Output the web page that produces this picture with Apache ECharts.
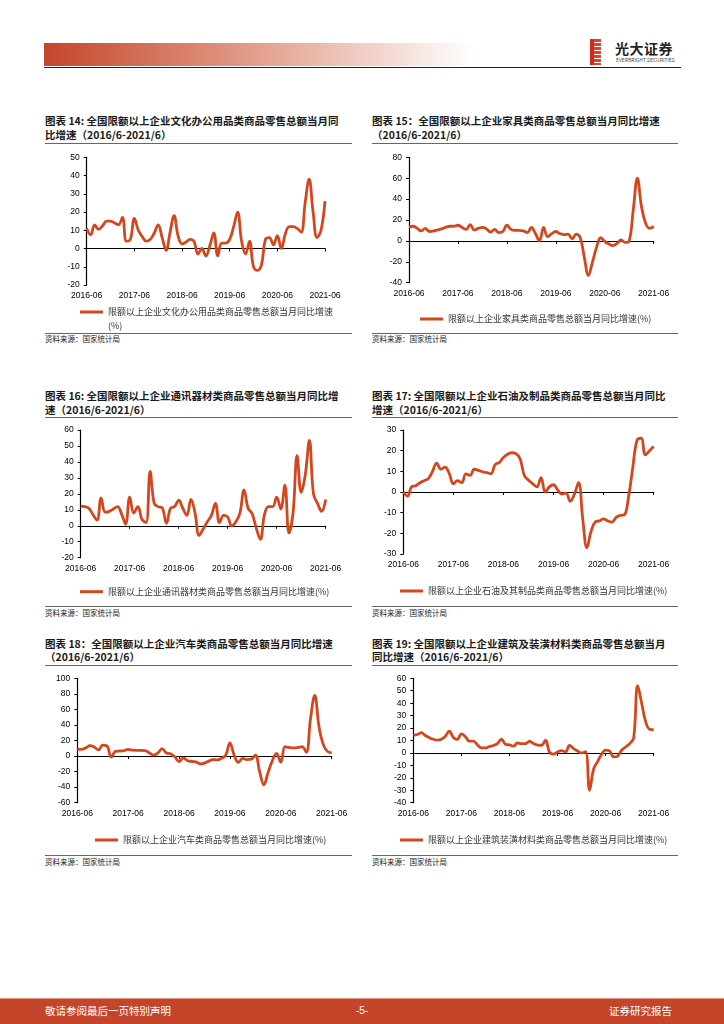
<!DOCTYPE html>
<html>
<head>
<meta charset="utf-8">
<script src="https://cdn.jsdelivr.net/npm/echarts@6/dist/echarts.min.js"></script>
<style>
body{margin:0;background:#fff;}
#page{position:relative;width:724px;height:1024px;overflow:hidden;font-family:'Noto Sans CJK SC','Liberation Sans',sans-serif;}
.t{position:absolute;font-size:10.5px;font-weight:bold;line-height:13.5px;color:#1a1a1a;white-space:nowrap;}
.sep{position:absolute;height:0;border-top:1px solid #666;}
.src{position:absolute;font-size:7.5px;line-height:9px;color:#222;white-space:nowrap;}
#main{position:absolute;left:0;top:0;width:724px;height:1024px;}
.foot{position:absolute;top:1004px;font-size:10.5px;line-height:14px;color:#fff;white-space:nowrap;}
</style>
</head>
<body>
<div id="page">
  <!-- header -->
  <div style="position:absolute;left:44px;top:43px;width:430px;height:23px;background:linear-gradient(to right,#c5452a,#e3a08e 50%,#fff);"></div>
  <div style="position:absolute;left:44px;top:67px;width:637px;border-top:1px solid #222;"></div>
  <div style="position:absolute;left:590px;top:39px;width:4px;height:26px;background:#d8281c;"></div>
  <div style="position:absolute;left:594px;top:39px;width:7px;height:26px;background:repeating-linear-gradient(to bottom,#e0452a 0 3px,#fff 3px 4px);"></div>
  <div style="position:absolute;left:615px;top:41px;font-size:14px;line-height:15px;font-weight:bold;color:#222;letter-spacing:0.5px;">光大证券</div>
  <div style="position:absolute;left:616px;top:57px;font-size:5px;line-height:6px;color:#444;white-space:nowrap;">EVERBRIGHT SECURITIES</div>

  <!-- row 1 -->
  <div class="t" style="left:45px;top:114px;">图表 14: 全国限额以上企业文化办公用品类商品零售总额当月同<br>比增速（2016/6-2021/6）</div>
  <div class="sep" style="left:45px;top:143px;width:307px;"></div>
  <div class="sep" style="left:45px;top:333px;width:307px;"></div>
  <div class="src" style="left:45px;top:334px;">资料来源：国家统计局</div>

  <div class="t" style="left:372px;top:114px;">图表 15：全国限额以上企业家具类商品零售总额当月同比增速<br>（2016/6-2021/6）</div>
  <div class="sep" style="left:372px;top:143px;width:306px;"></div>
  <div class="sep" style="left:372px;top:333px;width:306px;"></div>
  <div class="src" style="left:372px;top:334px;">资料来源：国家统计局</div>

  <!-- row 2 -->
  <div class="t" style="left:45px;top:389px;">图表 16: 全国限额以上企业通讯器材类商品零售总额当月同比增<br>速（2016/6-2021/6）</div>
  <div class="sep" style="left:45px;top:417px;width:307px;"></div>
  <div class="sep" style="left:45px;top:606px;width:307px;"></div>
  <div class="src" style="left:45px;top:608px;">资料来源：国家统计局</div>

  <div class="t" style="left:372px;top:389px;">图表 17: 全国限额以上企业石油及制品类商品零售总额当月同比<br>增速（2016/6-2021/6）</div>
  <div class="sep" style="left:372px;top:417px;width:306px;"></div>
  <div class="sep" style="left:372px;top:606px;width:306px;"></div>
  <div class="src" style="left:372px;top:608px;">资料来源：国家统计局</div>

  <!-- row 3 -->
  <div class="t" style="left:45px;top:636.5px;">图表 18：全国限额以上企业汽车类商品零售总额当月同比增速<br>（2016/6-2021/6）</div>
  <div class="sep" style="left:45px;top:665px;width:307px;"></div>
  <div class="sep" style="left:45px;top:855px;width:307px;"></div>
  <div class="src" style="left:45px;top:857px;">资料来源：国家统计局</div>

  <div class="t" style="left:372px;top:636.5px;">图表 19: 全国限额以上企业建筑及装潢材料类商品零售总额当月<br>同比增速（2016/6-2021/6）</div>
  <div class="sep" style="left:372px;top:665px;width:306px;"></div>
  <div class="sep" style="left:372px;top:855px;width:306px;"></div>
  <div class="src" style="left:372px;top:857px;">资料来源：国家统计局</div>

  <!-- footer -->
  <div style="position:absolute;left:0;top:998px;width:724px;height:26px;background:#c4452a;border-top:1px solid #e39a86;"></div>
  <div class="foot" style="left:45px;">敬请参阅最后一页特别声明</div>
  <div class="foot" style="left:352px;width:20px;text-align:center;font-family:'Liberation Sans';font-size:10px;">-5-</div>
  <div class="foot" style="left:609px;">证券研究报告</div>

  <div id="main"></div>
</div>

<script>
// 月份（含1月，2016-06 至 2021-06）
var months = [
  '2016-06','2016-07','2016-08','2016-09','2016-10','2016-11','2016-12',
  '2017-01','2017-02','2017-03','2017-04','2017-05','2017-06','2017-07','2017-08','2017-09','2017-10','2017-11','2017-12',
  '2018-01','2018-02','2018-03','2018-04','2018-05','2018-06','2018-07','2018-08','2018-09','2018-10','2018-11','2018-12',
  '2019-01','2019-02','2019-03','2019-04','2019-05','2019-06','2019-07','2019-08','2019-09','2019-10','2019-11','2019-12',
  '2020-01','2020-02','2020-03','2020-04','2020-05','2020-06','2020-07','2020-08','2020-09','2020-10','2020-11','2020-12',
  '2021-01','2021-02','2021-03','2021-04','2021-05','2021-06'
];

// 当月同比增速(%)
var culture = [11, 7.5, 13, 10.5, 12.5, 15, 15, 14, 13, 17, 4, 5, 16.5, 10, 6.5, 4, 5, 8.5, 13, 6,
  -1, 9, 18, 7, 2.5, 3.5, 5, 4, -3, 0, -4, 1.5, 8.5, -4, 3, 3, 5, 12, 20, 4,
  -3, 4, -10, -12, -9, 5, 6, 2, 7, 0, 8, 12, 12, 11, 9, 25, 38, 20, 6, 10, 26];
var furniture = [13.5, 14, 12, 9.5, 12, 9, 9.5, 10.5, 11.5, 13, 14, 14, 15, 13, 11, 15.5, 10.5, 12, 13, 11.5,
  8.5, 11, 8, 9, 15, 11, 10, 10, 9.5, 8, 12.8, 7, 0, 13, 4, 7, 9, 7, 6, 6.5,
  2, 6.5, 3, -16, -33, -20, -6, 3, -0.5, -3, -4.5, -2.5, 1, -1.5, 0, 30, 60, 33, 17, 12, 14];
var telecom = [12.3, 12, 11, 7, 3.5, 17.5, 8.5, 9, 10.5, 12, 7.5, 1, 18, 8, 12, 4, 2, 34, 14, 12,
  11, 1.5, 11, 12, 16, 11, 6.5, 16.5, 8, -6, -2, 2.5, 6.5, 14, 2, 6.5, 5.5, 0, 2.5, 8,
  22.5, 11, 7.5, -1.5, -8.5, 7, 12, 12, 18, 10.5, 25.5, -4.5, 8, 44, 21, 32, 53.5, 20, 14, 9, 16.5];
var petroleum = [0, -2, 2.5, 3, 4.5, 5.5, 6.5, 10, 14, 11, 12, 9, 4, 5.5, 4.5, 8.8, 8, 11, 10.5, 9.7,
  9.4, 8.8, 13.3, 14.3, 16.7, 18.3, 19, 18.6, 16, 8, 5.7, 4, 2.5, 7, 0, 2.5, 3.5, 1, -1, -0.5,
  -4.5, -1, 4.5, -13, -27, -19, -14.5, -14, -13, -14, -14.6, -12.3, -11.3, -11, -2, 12, 25, 26, 18, 20, 22];
var autos = [9, 8.5, 10.5, 13.3, 11.5, 8, 14, 13, -1.5, 6, 6.5, 7, 8.5, 7.5, 7.3, 7.3, 7, 4, 1.3, 4,
  9.5, 4, 3, -1, -7, -2.5, -6, -7, -7.5, -10, -9, -6.5, -4.5, -5, -3, 1, 17, 1, -8, -3,
  -4.5, -4, 1, -20, -37, -21, -6, 3.5, -8, 12, 11, 10.5, 11, 12, 5, 48, 78, 38, 15, 6, 4];
var building = [14.3, 14.8, 16.3, 14, 12.3, 11, 10.3, 11, 13.5, 17.5, 12.5, 11, 15.3, 13, 9.5, 9.5, 6.5, 4, 4, 5.2,
  6, 7.5, 11, 7, 6.5, 5.4, 8, 7.5, 7.5, 9.4, 7.5, 6.3, 6.2, 10.2, 0.5, -1, 0.8, 1.8, 1, 6,
  3.5, 1.5, 0, 1, -30, -13, -7, -1, 2.2, 1.5, -3.2, -2.5, 2.2, 4.8, 7.5, 12, 54, 40, 25, 19, 18.8];

// 纵轴刻度 [min, max, interval]
var cultureTicks = [-20, 50, 10];
var furnitureTicks = [-40, 80, 20];
var telecomTicks = [-20, 60, 10];
var petroleumTicks = [-30, 30, 10];
var autosTicks = [-60, 100, 20];
var buildingTicks = [-40, 60, 10];

var RED = '#d6461d';
var LABEL_FONT = "'Liberation Sans', Arial, sans-serif";

var panels = [
  {name: '限额以上企业文化办公用品类商品零售总额当月同比增速\n(%)', data: culture, ticks: cultureTicks,
   left: 86.7, right: 325, top: 157.3, bottom: 285, legX: 80, legY: 312, twoLine: true},
  {name: '限额以上企业家具类商品零售总额当月同比增速(%)', data: furniture, ticks: furnitureTicks,
   left: 409, right: 653.7, top: 157.3, bottom: 282.7, legX: 420, legY: 319},
  {name: '限额以上企业通讯器材类商品零售总额当月同比增速(%)', data: telecom, ticks: telecomTicks,
   left: 80.7, right: 325.7, top: 430, bottom: 557.7, legX: 80, legY: 591.7},
  {name: '限额以上企业石油及其制品类商品零售总额当月同比增速(%)', data: petroleum, ticks: petroleumTicks,
   left: 403.3, right: 653.7, top: 430, bottom: 554, legX: 400, legY: 591},
  {name: '限额以上企业汽车类商品零售总额当月同比增速(%)', data: autos, ticks: autosTicks,
   left: 77.3, right: 331.7, top: 678.3, bottom: 802.7, legX: 95, legY: 840},
  {name: '限额以上企业建筑装潢材料类商品零售总额当月同比增速(%)', data: building, ticks: buildingTicks,
   left: 413.3, right: 653.7, top: 678.3, bottom: 802.7, legX: 400, legY: 840}
];

var option = {animation: false, grid: [], xAxis: [], yAxis: [], series: [], legend: []};

panels.forEach(function (p, k) {
  option.grid.push({left: p.left, top: p.top, width: p.right - p.left, height: p.bottom - p.top});
  // 零轴（线和刻度）
  option.xAxis.push({
    type: 'category', gridIndex: k, data: months, boundaryGap: false,
    axisLine: {onZero: true, lineStyle: {color: '#000', width: 1.2}},
    axisTick: {interval: 11, length: 3, lineStyle: {color: '#000', width: 1}},
    axisLabel: {show: false}
  });
  // 底部标签
  option.xAxis.push({
    type: 'category', gridIndex: k, data: months, boundaryGap: false, position: 'bottom',
    axisLine: {show: false, onZero: false}, axisTick: {show: false},
    axisLabel: {interval: 11, margin: 6.5, fontSize: 8.5, color: '#000', fontFamily: LABEL_FONT}
  });
  option.yAxis.push({
    type: 'value', gridIndex: k, min: p.ticks[0], max: p.ticks[1], interval: p.ticks[2],
    axisLine: {show: true, onZero: false, lineStyle: {color: '#000', width: 1.2}},
    axisTick: {show: true, length: 3, lineStyle: {color: '#000'}},
    splitLine: {show: false},
    axisLabel: {margin: 7, fontSize: 8.5, color: '#000', fontFamily: LABEL_FONT}
  });
  option.series.push({
    type: 'line', name: p.name, xAxisIndex: 2 * k, yAxisIndex: k, data: p.data,
    smooth: 0.4, symbol: 'none',
    lineStyle: {color: RED, width: 2.8}, itemStyle: {color: RED}
  });
  var leg = {
    data: [p.name], left: p.legX, top: p.legY - 6, padding: 0, selectedMode: false,
    icon: 'rect', itemWidth: 23, itemHeight: 3,
    textStyle: {fontSize: 9, color: '#333', lineHeight: 12, fontFamily: "'Noto Sans CJK SC', sans-serif"}
  };
  if (p.twoLine) {
    // 空首行让图例线与第一行文字对齐
    leg.textStyle.lineHeight = 14;
    leg.formatter = function (name) { return ' \n' + name; };
    leg.top = p.legY - 21;
  }
  option.legend.push(leg);
});

var myChart = echarts.init(document.getElementById('main'));
myChart.setOption(option);
</script>
</body>
</html>
